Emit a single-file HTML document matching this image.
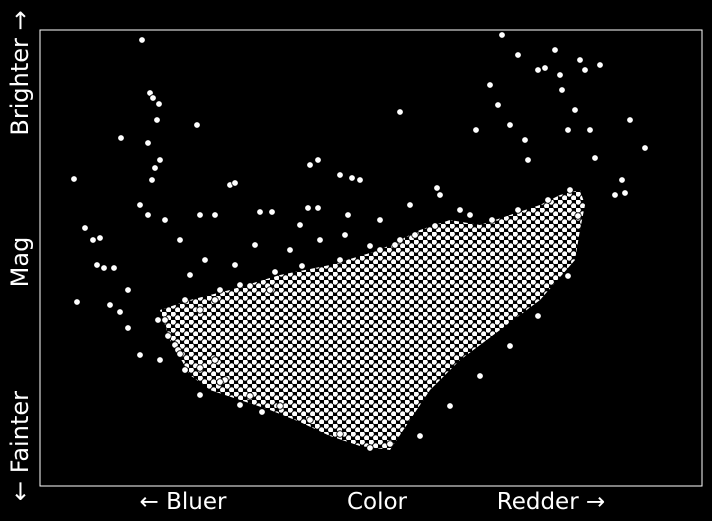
<!DOCTYPE html>
<html><head><meta charset="utf-8"><style>
html,body{margin:0;padding:0;background:#000;}
svg{display:block;font-family:"DejaVu Sans","Liberation Sans",sans-serif;}
</style></head><body>
<svg id="chart" width="712" height="521" viewBox="0 0 712 521">
<defs>
<pattern id="dots" width="9" height="8" patternUnits="userSpaceOnUse">
<rect width="9" height="8" fill="#000"/>
<circle cx="2.2" cy="2" r="3.1" fill="#fff" stroke="#000" stroke-width="0.8"/>
<circle cx="6.7" cy="6" r="3.1" fill="#fff" stroke="#000" stroke-width="0.8"/>
</pattern>
</defs>
<rect x="40" y="30" width="662" height="456" fill="#000" stroke="#fff" stroke-width="1"/>
<g id="dense"></g>
<g id="pts"></g>
<text x="183" y="509" fill="#fff" font-size="23" text-anchor="middle">← Bluer</text>
<text x="377" y="509" fill="#fff" font-size="23" text-anchor="middle">Color</text>
<text x="551" y="509" fill="#fff" font-size="23" text-anchor="middle">Redder →</text>
<text transform="translate(28,73) rotate(-90)" fill="#fff" font-size="24" text-anchor="middle">Brighter →</text>
<text transform="translate(28,262) rotate(-90)" fill="#fff" font-size="24" text-anchor="middle">Mag</text>
<text transform="translate(28,446) rotate(-90)" fill="#fff" font-size="24" text-anchor="middle">← Fainter</text>
</svg>
<script>
// data units: color index (0..662), brightness (0..456, higher = brighter)
const envColor=[120,150,190,240,290,340,380,410,440,470,500,520,540,545,540,535,500,460,420,390,370,350,320,290,260,230,200,170,150,130];
const envMag=[176,186,196,211,221,236,256,266,261,271,281,291,296,281,256,226,186,156,126,96,66,36,40,50,64,76,86,96,111,146];
const starColor=[102,110,113,119,117,157,81,108,34,37,45,53,60,57,64,74,70,88,88,100,108,112,115,120,125,160,175,190,195,220,232,268,278,270,278,300,312,320,360,340,370,397,400,430,436,450,458,462,470,478,485,488,498,505,515,520,522,528,535,540,545,550,555,560,575,585,582,605,590,100,120,145,160,80,140,165,195,150,215,250,280,305,308,340,355,375,260,230,175,200,145,125,135,175,185,200,222,
 118,128,138,160,180,210,235,262,300,330,360,395,420,452,478,508,530,538,528,498,470,440,410,380,350,330,300,270,240,210,180,160,140];
const starMag=[446,393,388,382,366,361,348,343,307,184,258,246,248,221,218,218,181,196,158,281,271,306,318,326,266,271,271,301,303,274,274,278,278,321,326,311,308,306,374,266,281,298,291,271,356,401,381,451,361,431,346,326,416,418,436,411,396,356,376,426,416,356,328,421,291,293,306,338,366,131,126,116,91,174,246,226,221,211,241,236,246,251,271,236,241,251,261,196,186,201,186,166,141,126,106,81,74,
 166,150,136,176,196,200,214,220,226,240,246,260,276,266,276,286,296,270,210,170,140,110,80,50,42,38,52,66,80,90,104,118,132];
const X=v=>40+v, Y=v=>486-v;
const ns="http://www.w3.org/2000/svg";
const dense=document.getElementById('dense');
const poly=document.createElementNS(ns,'polygon');


poly.setAttribute('points',envColor.map((c,i)=>X(c)+','+Y(envMag[i])).join(' '));
poly.setAttribute('fill','url(#dots)');
dense.appendChild(poly);
const g=document.getElementById('pts');
starColor.forEach((c,i)=>{
  const el=document.createElementNS(ns,'circle');
  
  
  el.setAttribute('cx',X(c));el.setAttribute('cy',Y(starMag[i]));
  el.setAttribute('r',3.3);el.setAttribute('fill','#fff');
  el.setAttribute('stroke','#000');el.setAttribute('stroke-width',0.8);
  g.appendChild(el);
});
</script>
</body></html>
